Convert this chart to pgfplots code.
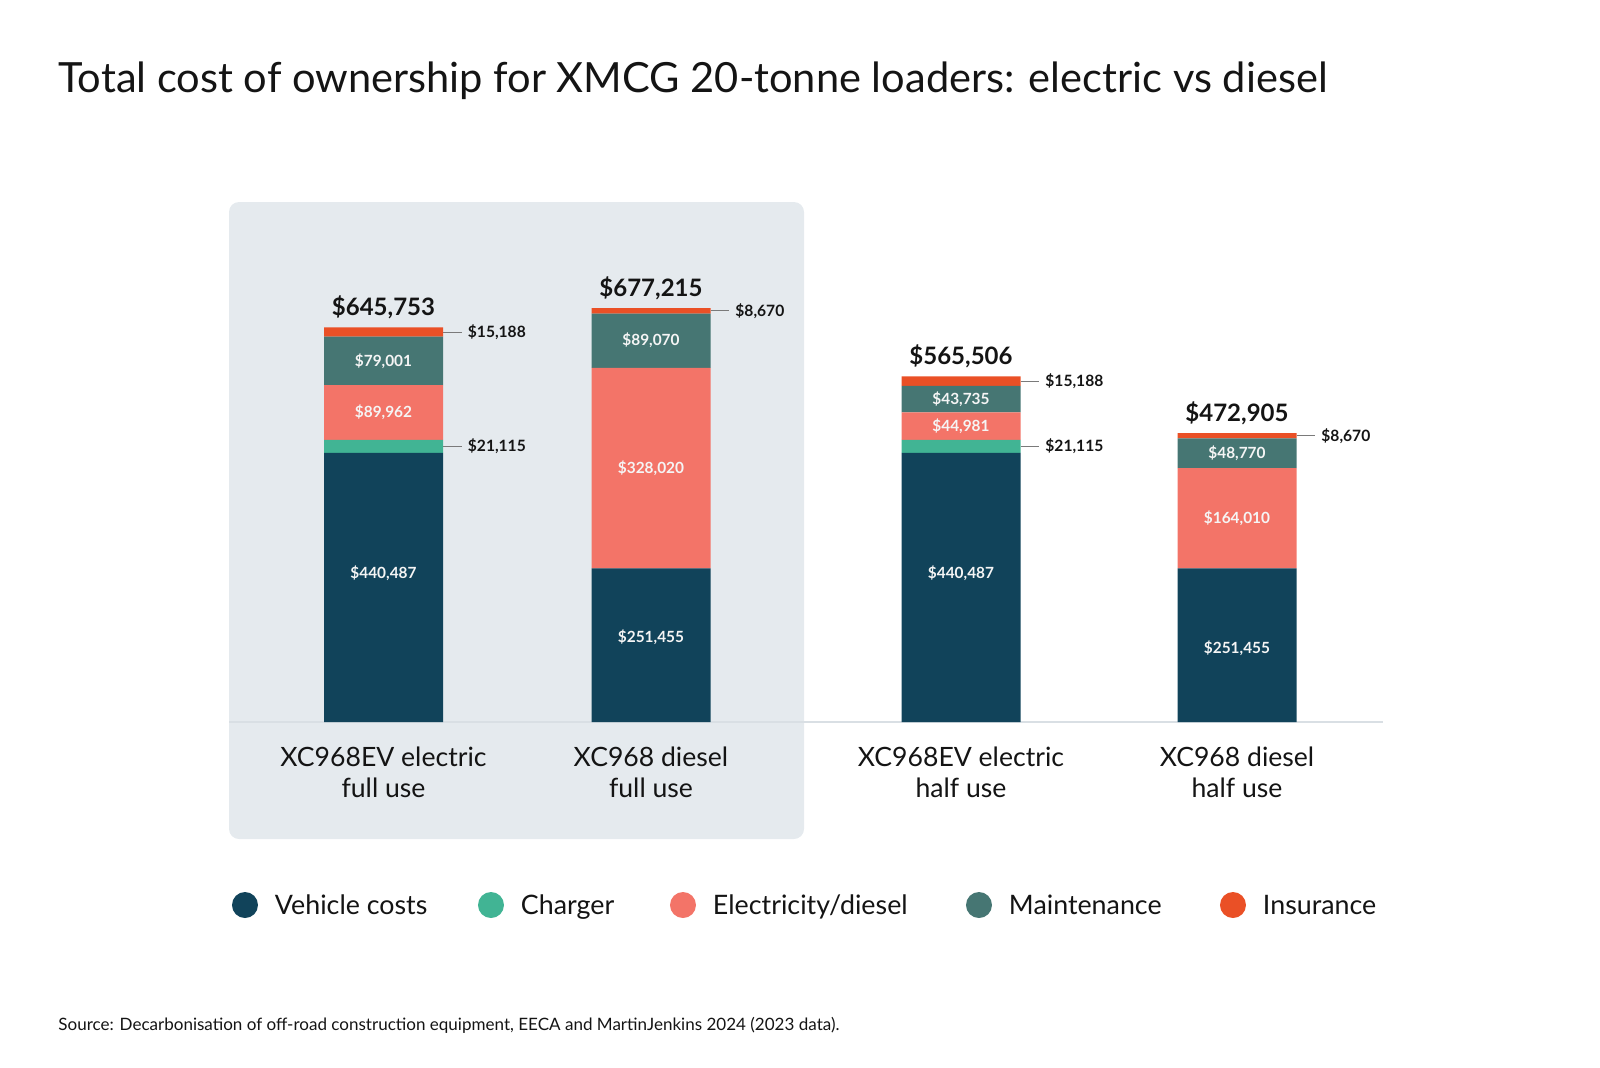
\documentclass[border=0pt]{standalone}
\usepackage{pgfplots}
\pgfplotsset{compat=1.18}
\usepackage{graphicx}
\usepackage{fontspec}
\setmainfont{Lato}

\definecolor{vehicle}{HTML}{11435A}
\definecolor{charger}{HTML}{41B494}
\definecolor{elec}{HTML}{F37468}
\definecolor{maint}{HTML}{467673}
\definecolor{insur}{HTML}{EA5026}
\definecolor{panel}{HTML}{E5EAEE}
\definecolor{baseline}{HTML}{D9DFE4}
\definecolor{ink}{HTML}{141414}
\definecolor{leadgray}{HTML}{7A7A7A}

\pgfplotsset{
  dotleg/.style={legend image code/.code={\fill[##1] (6.5pt,0pt) circle (6.5pt);}},
}
\tikzset{
  inlab/.style={font=\fontsize{7.7}{9}\selectfont\bfseries, text=white!96!black, inner sep=0pt},
  outlab/.style={font=\fontsize{7.8}{9}\selectfont\bfseries, text=ink, anchor=west, inner sep=0pt},
  totlab/.style={font=\fontsize{12}{14}\selectfont\bfseries, text=ink, anchor=base, inner sep=0pt, yshift=6pt},
  leader/.style={draw=leadgray, line width=0.6pt},
}

\begin{document}
\begin{tikzpicture}
\path[use as bounding box] (0,0) rectangle (800pt,-533.5pt);
\begin{scope}[x=0.5pt,y=-0.5pt]
  \fill[panel, rounded corners=5pt] (229,202) rectangle (804,839);
  \node[anchor=base west, inner sep=0pt, text=ink] at (58,92)
    {\resizebox{634.5pt}{!}{Total cost of ownership for XMCG 20-tonne loaders: electric vs diesel}};
  \node[anchor=base west, inner sep=0pt, text=ink] at (58,1030)
    {\resizebox{390.5pt}{!}{Source: Decarbonisation of off-road construction equipment, EECA and MartinJenkins 2024 (2023 data).}};
\end{scope}

\begin{axis}[
  at={(114.5pt,-361pt)}, anchor=south west,
  scale only axis, width=577pt, height=213.85pt,
  xmin=229, xmax=1383, ymin=0, ymax=700000,
  ybar stacked, bar width=119,
  axis y line=none, axis x line*=bottom,
  x axis line style={draw=baseline, line width=0.8pt, -},
  xtick={383.5,651,961,1237},
  xticklabels={{XC968EV electric\\full use},{XC968 diesel\\full use},{XC968EV electric\\half use},{XC968 diesel\\half use}},
  major tick length=0pt,
  xticklabel style={align=center, font=\fontsize{13.3}{15.5}\selectfont, text=ink, inner sep=0pt, yshift=-12pt},
  ytick=\empty,
  clip=false,
  legend columns=5,
  legend cell align=left,
  legend style={
    at={(0.0026,-0.4279)}, anchor=west,
    draw=none, fill=none, inner sep=0pt, outer sep=0pt,
    font=\fontsize{13.4}{16}\selectfont, text=ink,
    nodes={inner sep=0pt, text height=9.6pt, text depth=0pt},
    /tikz/every odd column/.append style={column sep=8.5pt},
    /tikz/every even column/.append style={column sep=0pt},
  },
]
\addplot[fill=vehicle, draw=none, dotleg] coordinates {(383.5,440487) (651,251455) (961,440487) (1237,251455)};
\addplot[fill=charger, draw=none, dotleg] coordinates {(383.5,21115) (651,0) (961,21115) (1237,0)};
\addplot[fill=elec, draw=none, dotleg] coordinates {(383.5,89962) (651,328020) (961,44981) (1237,164010)};
\addplot[fill=maint, draw=none, dotleg] coordinates {(383.5,79001) (651,89070) (961,43735) (1237,48770)};
\addplot[fill=insur, draw=none, dotleg] coordinates {(383.5,15188) (651,8670) (961,15188) (1237,8670)};
\addlegendentry{\makebox[101.5pt][l]{Vehicle costs}}
\addlegendentry{\makebox[74.5pt][l]{Charger}}
\addlegendentry{\makebox[126.5pt][l]{Electricity/diesel}}
\addlegendentry{\makebox[105.5pt][l]{Maintenance}}
\addlegendentry{Insurance}

% anchor points for the labels, drawn after the bars
\coordinate (t1) at (axis cs:383.5,645753);
\coordinate (t2) at (axis cs:651,677215);
\coordinate (t3) at (axis cs:961,565506);
\coordinate (t4) at (axis cs:1237,472905);
\coordinate (v1) at (axis cs:383.5,243863);
\coordinate (e1) at (axis cs:383.5,506583);
\coordinate (m1) at (axis cs:383.5,591064);
\coordinate (v2) at (axis cs:651,139116);
\coordinate (e2) at (axis cs:651,415465);
\coordinate (m2) at (axis cs:651,624010);
\coordinate (v3) at (axis cs:961,243863);
\coordinate (e3) at (axis cs:961,484092);
\coordinate (m3) at (axis cs:961,528450);
\coordinate (v4) at (axis cs:1237,121113);
\coordinate (e4) at (axis cs:1237,333460);
\coordinate (m4) at (axis cs:1237,439850);
\coordinate (i1a) at (axis cs:443,638159);   \coordinate (i1b) at (axis cs:461.5,638159);  \coordinate (i1) at (axis cs:467.5,638159);
\coordinate (c1a) at (axis cs:443,451044);   \coordinate (c1b) at (axis cs:461.5,451044);  \coordinate (c1) at (axis cs:467.5,451044);
\coordinate (i2a) at (axis cs:710.5,672880); \coordinate (i2b) at (axis cs:729,672880);    \coordinate (i2) at (axis cs:735,672880);
\coordinate (i3a) at (axis cs:1020.5,557912);\coordinate (i3b) at (axis cs:1039,557912);   \coordinate (i3) at (axis cs:1045,557912);
\coordinate (c3a) at (axis cs:1020.5,451044);\coordinate (c3b) at (axis cs:1039,451044);   \coordinate (c3) at (axis cs:1045,451044);
\coordinate (i4a) at (axis cs:1296.5,468570);\coordinate (i4b) at (axis cs:1315,468570);   \coordinate (i4) at (axis cs:1321,468570);
\end{axis}

% totals
\node[totlab] at (t1) {\$645,753};
\node[totlab] at (t2) {\$677,215};
\node[totlab] at (t3) {\$565,506};
\node[totlab] at (t4) {\$472,905};

% labels inside the segments
\node[inlab] at (v1) {\$440,487};
\node[inlab] at (e1) {\$89,962};
\node[inlab] at (m1) {\$79,001};
\node[inlab] at (v2) {\$251,455};
\node[inlab] at (e2) {\$328,020};
\node[inlab] at (m2) {\$89,070};
\node[inlab] at (v3) {\$440,487};
\node[inlab] at (e3) {\$44,981};
\node[inlab] at (m3) {\$43,735};
\node[inlab] at (v4) {\$251,455};
\node[inlab] at (e4) {\$164,010};
\node[inlab] at (m4) {\$48,770};

% small segments, labelled outside
\draw[leader] (i1a) -- (i1b); \node[outlab] at (i1) {\$15,188};
\draw[leader] (c1a) -- (c1b); \node[outlab] at (c1) {\$21,115};
\draw[leader] (i2a) -- (i2b); \node[outlab] at (i2) {\$8,670};
\draw[leader] (i3a) -- (i3b); \node[outlab] at (i3) {\$15,188};
\draw[leader] (c3a) -- (c3b); \node[outlab] at (c3) {\$21,115};
\draw[leader] (i4a) -- (i4b); \node[outlab] at (i4) {\$8,670};
\end{tikzpicture}
\end{document}
